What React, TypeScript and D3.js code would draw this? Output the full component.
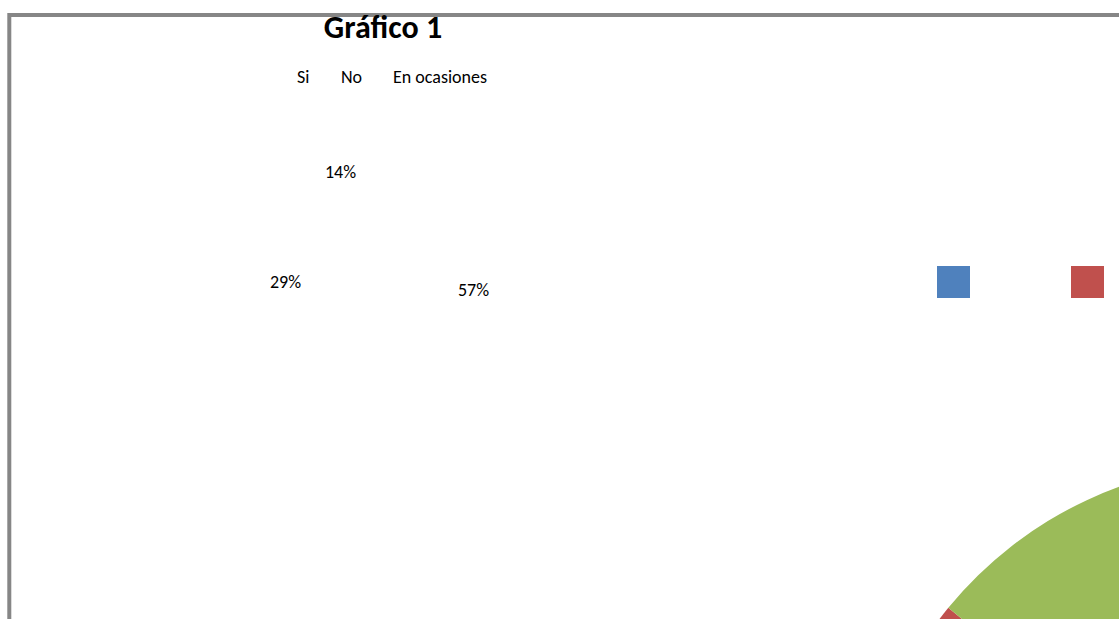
import React from "react";
import * as d3 from "d3";

const title = "Gráfico 1";
const categories = ["Si", "No", "En ocasiones"];
const values = [29, 14, 57];
const labels = ["29%", "14%", "57%"];
const colors = ["#4F81BD", "#C0504D", "#9BBB59"];

const W = 1119;
const H = 619;
const FONT = "Carlito, Lato, 'Open Sans', sans-serif";

// layout (non-data)
const pieCenter = { x: 1254, y: 858 };
const pieRadius = 395;
const startDeg = 154.5;
const legendTextX = [297, 341, 393];
const legendTextY = 83;
const labelPos = [
  { x: 270, y: 288 },
  { x: 325, y: 178 },
  { x: 458, y: 296 },
];
const swatch = { x0: 937, step: 134, y: 266, w: 33, h: 32 };

export default function App() {
  const pie = d3
    .pie<number>()
    .sort(null)
    .startAngle((startDeg * Math.PI) / 180)
    .endAngle((startDeg * Math.PI) / 180 + 2 * Math.PI);
  const arcs = pie(values);
  const arc = d3.arc<d3.PieArcDatum<number>>().innerRadius(0).outerRadius(pieRadius);
  const color = d3.scaleOrdinal<string, string>().domain(categories).range(colors);
  const swX = d3
    .scaleLinear()
    .domain([0, 1])
    .range([swatch.x0, swatch.x0 + swatch.step]);

  return (
    <div style={{ position: "fixed", left: 0, top: 0, width: W, height: H, background: "#fff" }}>
      <svg width={W} height={H} style={{ display: "block" }}>
        <rect x={0} y={0} width={W} height={H} fill="#fff" />
        <g transform={`translate(${pieCenter.x},${pieCenter.y})`}>
          {arcs.map((a, i) => (
            <path key={i} d={arc(a) || ""} fill={color(categories[i])} />
          ))}
        </g>
        <rect x={9.3} y={15} width={W + 20} height={H + 20} fill="none" stroke="#868686" strokeWidth={4} />
        <text x={383} y={38} textAnchor="middle" fontFamily={FONT} fontWeight="bold" fontSize={32} fill="#000">
          {title}
        </text>
        {categories.map((c, i) => (
          <text key={c} x={legendTextX[i]} y={legendTextY} fontFamily={FONT} fontSize={18} fill="#000">
            {c}
          </text>
        ))}
        {labels.map((l, i) => (
          <text key={l} x={labelPos[i].x} y={labelPos[i].y} fontFamily={FONT} fontSize={18} fill="#000">
            {l}
          </text>
        ))}
        {categories.map((c, i) => (
          <rect
            key={c}
            x={swX(i)}
            y={swatch.y}
            width={swatch.w}
            height={swatch.h}
            fill={color(c)}
          />
        ))}
      </svg>
    </div>
  );
}
